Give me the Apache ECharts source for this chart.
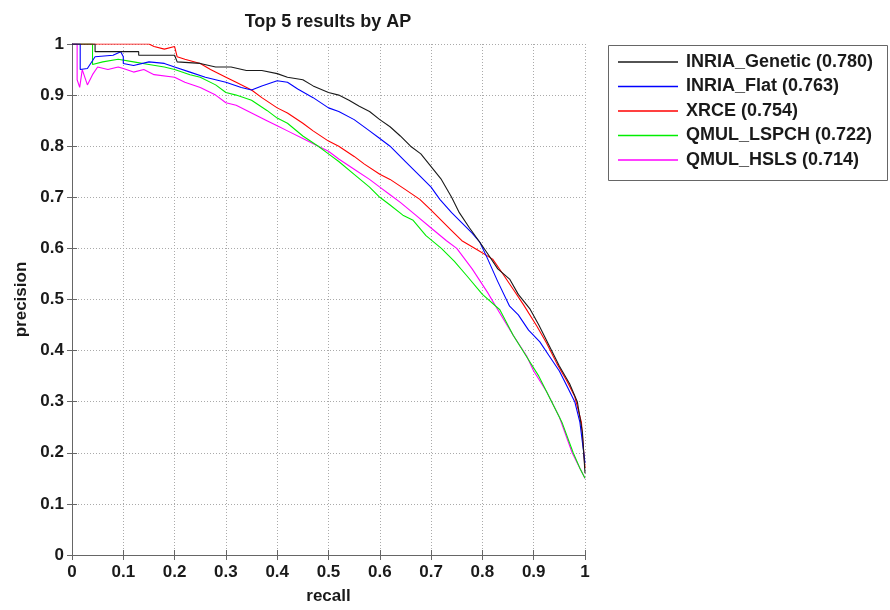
<!DOCTYPE html>
<html>
<head>
<meta charset="utf-8">
<script src="https://cdn.jsdelivr.net/npm/echarts@6/dist/echarts.min.js"></script>
<style>html,body{margin:0;padding:0;background:#fff;}#c{width:890px;height:610px;}</style>
</head>
<body>
<div id="c"></div>
<script>
// ---- data (recall, precision) ----
var titleText = 'Top 5 results by AP';
var seriesNames = ['INRIA_Genetic (0.780)', 'INRIA_Flat (0.763)', 'XRCE (0.754)', 'QMUL_LSPCH (0.722)', 'QMUL_HSLS (0.714)'];
var seriesColors = ['#1a1a1a', '#0000ff', '#ff0000', '#00ee00', '#ff00ff'];

var inriaGenetic = [[0,1],[0.045,1],[0.045,0.985],[0.13,0.985],[0.13,0.978],[0.2,0.978],[0.205,0.965],[0.25,0.962],[0.28,0.955],[0.31,0.955],[0.34,0.948],[0.37,0.948],[0.4,0.942],[0.42,0.935],[0.45,0.93],[0.47,0.918],[0.5,0.905],[0.52,0.9],[0.54,0.89],[0.56,0.878],[0.58,0.868],[0.6,0.852],[0.62,0.838],[0.64,0.82],[0.66,0.8],[0.68,0.785],[0.7,0.76],[0.72,0.735],[0.74,0.7],[0.755,0.67],[0.775,0.64],[0.795,0.612],[0.81,0.59],[0.83,0.56],[0.853,0.54],[0.87,0.51],[0.893,0.481],[0.91,0.45],[0.93,0.41],[0.95,0.37],[0.97,0.335],[0.985,0.3],[0.995,0.24],[1,0.16]];

var inriaFlat = [[0,1],[0.016,1],[0.016,0.95],[0.03,0.952],[0.045,0.975],[0.08,0.978],[0.095,0.985],[0.1,0.975],[0.1,0.962],[0.12,0.958],[0.15,0.965],[0.18,0.962],[0.2,0.955],[0.23,0.945],[0.26,0.935],[0.28,0.93],[0.3,0.925],[0.33,0.915],[0.35,0.91],[0.37,0.918],[0.4,0.928],[0.42,0.925],[0.44,0.912],[0.47,0.895],[0.5,0.875],[0.52,0.868],[0.55,0.852],[0.58,0.83],[0.6,0.815],[0.62,0.8],[0.65,0.77],[0.68,0.74],[0.7,0.72],[0.717,0.696],[0.74,0.67],[0.76,0.65],[0.78,0.63],[0.795,0.612],[0.81,0.58],[0.83,0.535],[0.853,0.487],[0.87,0.47],[0.89,0.44],[0.912,0.417],[0.93,0.39],[0.95,0.36],[0.965,0.33],[0.98,0.3],[0.99,0.26],[1,0.18]];

var xrce = [[0,1],[0.15,1],[0.16,0.995],[0.18,0.99],[0.2,0.995],[0.205,0.975],[0.22,0.97],[0.25,0.962],[0.27,0.95],[0.3,0.935],[0.32,0.925],[0.35,0.91],[0.37,0.895],[0.4,0.875],[0.42,0.865],[0.45,0.845],[0.47,0.83],[0.5,0.81],[0.52,0.8],[0.55,0.78],[0.57,0.765],[0.6,0.745],[0.62,0.735],[0.65,0.715],[0.678,0.696],[0.7,0.675],[0.72,0.655],[0.74,0.635],[0.76,0.615],[0.789,0.598],[0.82,0.579],[0.84,0.55],[0.86,0.52],[0.88,0.49],[0.906,0.448],[0.925,0.415],[0.945,0.375],[0.965,0.34],[0.98,0.31],[0.993,0.26],[1,0.17]];

var qmulLspch = [[0,1],[0.04,1],[0.04,0.96],[0.06,0.965],[0.09,0.97],[0.12,0.965],[0.15,0.96],[0.18,0.955],[0.2,0.95],[0.23,0.94],[0.25,0.935],[0.28,0.92],[0.3,0.905],[0.32,0.9],[0.35,0.89],[0.38,0.87],[0.4,0.855],[0.42,0.845],[0.45,0.82],[0.48,0.8],[0.5,0.785],[0.52,0.77],[0.55,0.745],[0.58,0.72],[0.6,0.7],[0.62,0.685],[0.645,0.665],[0.665,0.655],[0.69,0.625],[0.72,0.6],[0.745,0.575],[0.77,0.546],[0.8,0.51],[0.834,0.48],[0.86,0.43],[0.885,0.39],[0.91,0.35],[0.935,0.3],[0.955,0.26],[0.977,0.2],[0.99,0.17],[1,0.15]];

var qmulHsls = [[0,1],[0.01,1],[0.01,0.93],[0.015,0.915],[0.02,0.95],[0.03,0.92],[0.04,0.94],[0.05,0.955],[0.07,0.95],[0.09,0.955],[0.1,0.952],[0.12,0.945],[0.14,0.95],[0.16,0.94],[0.2,0.935],[0.22,0.925],[0.25,0.915],[0.28,0.9],[0.3,0.885],[0.32,0.88],[0.35,0.865],[0.38,0.85],[0.4,0.84],[0.42,0.83],[0.45,0.815],[0.48,0.8],[0.5,0.79],[0.52,0.775],[0.55,0.755],[0.58,0.735],[0.6,0.72],[0.62,0.705],[0.64,0.69],[0.67,0.665],[0.7,0.64],[0.73,0.615],[0.75,0.6],[0.78,0.56],[0.81,0.514],[0.83,0.48],[0.86,0.43],[0.886,0.39],[0.9,0.36],[0.925,0.32],[0.95,0.27],[0.975,0.2],[0.99,0.17],[1,0.15]];

var seriesData = [inriaGenetic, inriaFlat, xrce, qmulLspch, qmulHsls];

// ---- chart ----
var FONT = '"Liberation Sans", Arial, Helvetica, sans-serif';
var chart = echarts.init(document.getElementById('c'), null, {renderer: 'canvas'});
var G = {left: 72, top: 44, width: 513, height: 513};
var axisCol = '#666666';
var txtCol = '#1a1a1a';

function baseAxis(extra) {
  var a = {
    type: 'value', min: 0, max: 1, interval: 0.1,
    axisLine: {show: true, lineStyle: {color: axisCol, width: 1}},
    axisTick: {show: true, inside: true, length: 5, lineStyle: {color: axisCol}},
    splitLine: {show: false},
    axisLabel: {show: false}
  };
  for (var k in extra) a[k] = extra[k];
  return a;
}

var option = {
  animation: false,
  backgroundColor: '#fff',
  grid: {left: G.left, top: G.top, width: G.width, height: G.height, containLabel: false},
  xAxis: [
    baseAxis({
      position: 'bottom',
      name: 'recall', nameLocation: 'middle', nameGap: 33,
      nameTextStyle: {color: txtCol, fontSize: 17, fontWeight: 'bold', fontFamily: FONT},
      axisLabel: {show: true, color: txtCol, fontSize: 17, fontWeight: 'bold', fontFamily: FONT, margin: 9},
      splitLine: {show: true, lineStyle: {color: '#aaaaaa', type: [1, 2], width: 1}}
    }),
    baseAxis({position: 'top'})
  ],
  yAxis: [
    baseAxis({
      position: 'left',
      name: 'precision', nameLocation: 'middle', nameGap: 42,
      nameTextStyle: {color: txtCol, fontSize: 17, fontWeight: 'bold', fontFamily: FONT},
      axisLabel: {show: true, color: txtCol, fontSize: 17, fontWeight: 'bold', fontFamily: FONT, margin: 8},
      splitLine: {show: true, lineStyle: {color: '#aaaaaa', type: [1, 2], width: 1}}
    }),
    baseAxis({position: 'right'})
  ],
  legend: {
    orient: 'vertical',
    left: 618, top: 53,
    padding: 0,
    itemWidth: 60, itemHeight: 1.5,
    itemGap: 6.5,
    icon: 'rect',
    textStyle: {color: txtCol, fontSize: 18, fontWeight: 'bold', fontFamily: FONT, lineHeight: 18, padding: [0, 0, 0, 3]},
    data: seriesNames
  },
  graphic: [
    {type: 'text', silent: true, style: {text: titleText, x: 328, y: 22, align: 'center', verticalAlign: 'middle', font: 'bold 18px ' + FONT, fill: txtCol}},
    {type: 'rect', silent: true, shape: {x: 608.5, y: 45.5, width: 279, height: 135}, style: {fill: 'none', stroke: axisCol, lineWidth: 1}, z: 10}
  ],
  series: seriesData.map(function (d, i) {
    return {
      name: seriesNames[i], type: 'line', xAxisIndex: 0, yAxisIndex: 0,
      data: d, symbol: 'none', showSymbol: false,
      lineStyle: {width: 1.1, color: seriesColors[i]},
      itemStyle: {color: seriesColors[i]},
      z: 5 - i
    };
  })
};
chart.setOption(option);
</script>
</body>
</html>
